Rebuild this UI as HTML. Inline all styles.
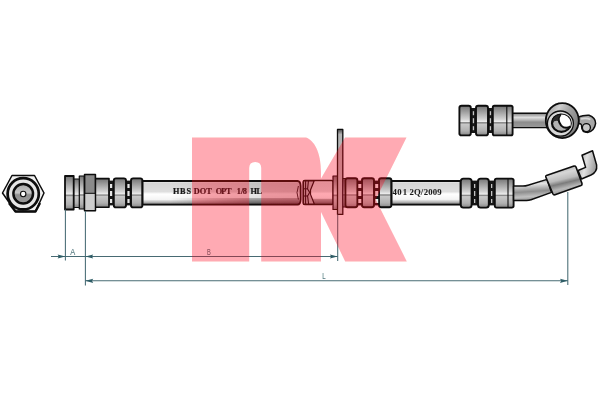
<!DOCTYPE html>
<html><head><meta charset="utf-8"><title>Brake hose</title>
<style>
html,body{margin:0;padding:0;background:#fff;}
body{width:600px;height:400px;overflow:hidden;font-family:"Liberation Sans",sans-serif;}
svg{display:block}
</style></head><body>
<svg width="600" height="400" viewBox="0 0 600 400">
<defs>
<linearGradient id="metal" x1="0" y1="0" x2="0" y2="1">
<stop offset="0" stop-color="#747474"/><stop offset="0.16" stop-color="#969696"/><stop offset="0.45" stop-color="#d2d2d2"/><stop offset="0.54" stop-color="#eeeeee"/><stop offset="0.57" stop-color="#747474"/><stop offset="0.62" stop-color="#c8c8c8"/><stop offset="0.85" stop-color="#b0b0b0"/><stop offset="1" stop-color="#868686"/>
</linearGradient>
<linearGradient id="hose" x1="0" y1="0" x2="0" y2="1">
<stop offset="0" stop-color="#f0f0f0"/><stop offset="0.1" stop-color="#d6d6d6"/><stop offset="0.45" stop-color="#dedede"/><stop offset="0.55" stop-color="#ffffff"/><stop offset="0.78" stop-color="#f4f4f4"/><stop offset="0.9" stop-color="#b4b4b4"/><stop offset="1" stop-color="#666"/>
</linearGradient>
<linearGradient id="pipe" x1="0" y1="0" x2="0" y2="1">
<stop offset="0" stop-color="#808080"/><stop offset="0.3" stop-color="#dedede"/><stop offset="0.5" stop-color="#b0b0b0"/><stop offset="0.62" stop-color="#8c8c8c"/><stop offset="1" stop-color="#9a9a9a"/>
</linearGradient>
<linearGradient id="sleeve" x1="0" y1="0" x2="0.3" y2="1">
<stop offset="0" stop-color="#8c8c8c"/><stop offset="0.35" stop-color="#d6d6d6"/><stop offset="0.55" stop-color="#bcbcbc"/><stop offset="0.68" stop-color="#7c7c7c"/><stop offset="0.85" stop-color="#b8b8b8"/><stop offset="1" stop-color="#9a9a9a"/>
</linearGradient>
<linearGradient id="tip" x1="0" y1="0" x2="1" y2="0.3">
<stop offset="0" stop-color="#9a9a9a"/><stop offset="0.5" stop-color="#e2e2e2"/><stop offset="1" stop-color="#a0a0a0"/>
</linearGradient>
<linearGradient id="banjo" x1="0" y1="0" x2="1" y2="0.6"><stop offset="0" stop-color="#8a8a8a"/><stop offset="0.35" stop-color="#cfcfcf"/><stop offset="0.6" stop-color="#a4a4a4"/><stop offset="1" stop-color="#7e7e7e"/></linearGradient>
<linearGradient id="disc" x1="0" y1="0" x2="0" y2="1"><stop offset="0" stop-color="#a8a8a8"/><stop offset="0.45" stop-color="#c6c6c6"/><stop offset="0.55" stop-color="#8e8e8e"/><stop offset="1" stop-color="#9c9c9c"/></linearGradient>
<linearGradient id="pipe2" x1="0" y1="0" x2="0.12" y2="1"><stop offset="0" stop-color="#8a8a8a"/><stop offset="0.28" stop-color="#e4e4e4"/><stop offset="0.48" stop-color="#b0b0b0"/><stop offset="0.62" stop-color="#8e8e8e"/><stop offset="0.85" stop-color="#c0c0c0"/><stop offset="1" stop-color="#999"/></linearGradient>
<linearGradient id="hshade" x1="0" y1="0" x2="1" y2="0"><stop offset="0" stop-color="#000" stop-opacity="0"/><stop offset="0.7" stop-color="#000" stop-opacity="0.1"/><stop offset="1" stop-color="#000" stop-opacity="0.12"/></linearGradient>
<linearGradient id="hshade2" x1="0" y1="0" x2="1" y2="0"><stop offset="0" stop-color="#000" stop-opacity="0"/><stop offset="0.6" stop-color="#000" stop-opacity="0.3"/><stop offset="1" stop-color="#000" stop-opacity="0.34"/></linearGradient>
<linearGradient id="plate" x1="0" y1="0" x2="0" y2="1">
<stop offset="0" stop-color="#4a4a4a"/><stop offset="0.06" stop-color="#b4b4b4"/><stop offset="1" stop-color="#c6c6c6"/>
</linearGradient>
<filter id="soft" x="0" y="0" width="600" height="400" filterUnits="userSpaceOnUse"><feGaussianBlur stdDeviation="0.4"/></filter>
</defs>
<rect width="600" height="400" fill="#fff"/>
<g filter="url(#soft)">
<g stroke="#0d0d0d" stroke-width="1.6" stroke-linejoin="round">
<!-- hex end view -->
<polygon points="2.5,193 12,175.5 34.5,175.5 44,193 35.5,211.5 15.5,211.5" fill="#f2f2f2" stroke-width="1.5"/>
<path d="M9,203 L15.5,211.5 H35.5 L40,203" fill="none" stroke-width="2.4"/>
<circle cx="23.2" cy="193.8" r="15.6" fill="#e6e6e6" stroke-width="2.7"/>
<circle cx="23.2" cy="193.8" r="9.8" fill="url(#disc)" stroke-width="2.5"/>
<circle cx="23.2" cy="194" r="2.7" fill="#fff" stroke-width="1.1"/>

<!-- left fitting -->
<rect x="73" y="179" width="7" height="28.5" fill="url(#metal)" stroke-width="1.1"/>
<rect x="65" y="176" width="8.7" height="33.5" fill="url(#metal)" stroke-width="1.8"/>
<rect x="79.3" y="176" width="5" height="33" fill="url(#metal)" stroke-width="1.2"/>
<rect x="95" y="178.6" width="14" height="28.6" fill="url(#metal)"/>
<rect x="84.6" y="174.5" width="10.8" height="36.3" fill="#8a8a8a"/>
<rect x="85.4" y="193.5" width="9.2" height="16.5" fill="#cdcdcd" stroke="none"/>
<line x1="84.6" y1="193.3" x2="95.4" y2="193.3" stroke-width="1"/>
<rect x="108.5" y="180.6" width="23" height="24.8" fill="#161616" stroke="none"/>
<rect x="113.8" y="178.4" width="12.2" height="29" rx="2.2" fill="url(#metal)" stroke-width="1.9"/>
<rect x="131" y="178.4" width="11.4" height="29" rx="2.2" fill="url(#metal)" stroke-width="1.9"/>
<g stroke="none" fill="#e6e6e6"><rect x="110.0" y="184.0" width="2.2" height="4.0"/><rect x="110.0" y="191.0" width="2.2" height="5.0"/><rect x="110.0" y="199.0" width="2.2" height="4.0"/><rect x="127.4" y="184.0" width="2.2" height="4.0"/><rect x="127.4" y="191.0" width="2.2" height="5.0"/><rect x="127.4" y="199.0" width="2.2" height="4.0"/></g>

<!-- hose left -->
<path d="M142.6,181 H297.5 Q300.5,181.2 300.6,186 V199.4 Q300.5,204.4 297.5,204.7 H142.6 Z" fill="url(#hose)" stroke-width="1.8"/>
<rect x="170" y="181.8" width="129.5" height="22" fill="url(#hshade)" stroke="none"/>
<rect x="170" y="198.2" width="129.5" height="5.8" fill="url(#hshade2)" stroke="none"/>
<path d="M298.4,186 Q295.6,192.5 298.4,199.5" fill="none" stroke-width="0.9"/>

<!-- middle fitting -->
<rect x="303.2" y="180.4" width="30" height="24.2" rx="1.6" fill="url(#hose)" stroke-width="1.5"/>
<rect x="313" y="198.8" width="19.6" height="5.2" fill="#000" fill-opacity="0.3" stroke="none"/>
<path d="M303.5,181 h10.6 l-3.6,9 v4.4 l3.8,9.6 h-10.8 z" fill="#b8b8b8" stroke-width="1.2"/>
<path d="M305.6,181 V204 M308.4,181 L307.6,189 L309.6,192.4 L307.6,196 L308.6,204" fill="none" stroke-width="1.1"/>
<path d="M303.5,188.8 H308 M303.5,196 H308" fill="none" stroke-width="1"/>
<rect x="333" y="176" width="5" height="33.5" fill="url(#metal)" stroke-width="1.2"/>
<rect x="342" y="178.5" width="4" height="28.5" fill="url(#metal)" stroke-width="1"/>
<rect x="337.5" y="129.4" width="5.3" height="85" fill="url(#plate)" stroke-width="1.3"/>
<rect x="356" y="180.6" width="24" height="24.8" fill="#161616" stroke="none"/>
<rect x="345.4" y="178.3" width="12" height="29" rx="2.2" fill="url(#metal)" stroke-width="1.9"/>
<rect x="362" y="178.3" width="12" height="29" rx="2.2" fill="url(#metal)" stroke-width="1.9"/>
<rect x="379" y="178.3" width="12.4" height="29" rx="2.2" fill="url(#metal)" stroke-width="1.9"/>
<g stroke="none" fill="#f0f0f0"><rect x="358.3" y="184.0" width="3.0" height="4.0"/><rect x="358.3" y="191.0" width="3.0" height="5.0"/><rect x="358.3" y="199.0" width="3.0" height="4.0"/><rect x="375.2" y="184.0" width="3.0" height="4.0"/><rect x="375.2" y="191.0" width="3.0" height="5.0"/><rect x="375.2" y="199.0" width="3.0" height="4.0"/></g>

<!-- hose right -->
<rect x="391.6" y="181" width="69" height="23.6" fill="url(#hose)" stroke-width="1.8"/>

<!-- right fitting -->
<rect x="471" y="180.6" width="24" height="24.8" fill="#161616" stroke="none"/>
<rect x="460.8" y="178.6" width="10.8" height="29" rx="2.6" fill="url(#metal)" stroke-width="1.9"/>
<rect x="478" y="178.6" width="10.8" height="29" rx="2.6" fill="url(#metal)" stroke-width="1.9"/>
<rect x="494.8" y="178.6" width="18.8" height="29" rx="1.8" fill="url(#metal)" stroke-width="1.9"/>
<line x1="508" y1="179" x2="508" y2="207.4" stroke-width="1.1"/>
<g stroke="none" fill="#c4c4c4"><rect x="474.0" y="184.0" width="1.3" height="4.0"/><rect x="474.0" y="191.0" width="1.3" height="5.0"/><rect x="474.0" y="199.0" width="1.3" height="4.0"/><rect x="491.0" y="184.0" width="1.3" height="4.0"/><rect x="491.0" y="191.0" width="1.3" height="5.0"/><rect x="491.0" y="199.0" width="1.3" height="4.0"/></g>
<!-- bent pipe -->
<path d="M513.6,186 H523 Q525.5,186 528,185.2 L547,179.4 L551.5,192.4 L531,199.8 Q529,200.5 526.5,200.5 H513.6 Z" fill="url(#pipe2)" stroke-width="1.5"/>
<path d="M578,170.5 L585.6,167.4 L582,155.2 L592.5,150.8 L596.6,165 Q597.5,172 591,175 L581.5,179 Z" fill="url(#tip)" stroke-width="1.5"/>
<path d="M546.4,175.4 L574,166 Q575.4,165.8 576,167 L582,183.6 Q582.4,185 581,185.6 L555,194.8 Q553.6,195.2 553,194 L545.8,177 Q545.4,175.8 546.4,175.4 Z" fill="url(#sleeve)" stroke-width="1.6"/>

<!-- top right fitting -->
<rect x="470" y="108" width="24" height="25" fill="#161616" stroke="none"/>
<rect x="459.4" y="105.8" width="11.4" height="29.6" rx="2.2" fill="url(#metal)" stroke-width="1.9"/>
<rect x="476" y="105.8" width="12" height="29.6" rx="2.2" fill="url(#metal)" stroke-width="1.9"/>
<rect x="492.8" y="105.8" width="19.8" height="29.6" rx="1.6" fill="url(#metal)" stroke-width="1.9"/>
<line x1="506.8" y1="106" x2="506.8" y2="135.2" stroke-width="1.1"/>
<g stroke="none" fill="#c4c4c4"><rect x="472.8" y="111.2" width="1.3" height="4.0"/><rect x="472.8" y="118.2" width="1.3" height="5.0"/><rect x="472.8" y="126.2" width="1.3" height="4.0"/><rect x="489.8" y="111.2" width="1.3" height="4.0"/><rect x="489.8" y="118.2" width="1.3" height="5.0"/><rect x="489.8" y="126.2" width="1.3" height="4.0"/></g>
<rect x="512.8" y="113.2" width="35" height="14.4" fill="url(#pipe)" stroke-width="1.4"/>
<!-- hook -->
<path d="M578.4,117 Q583,115 589,115.2 Q595.6,117.4 595.6,123.4 Q594.6,130.6 588,132.4 Q581.6,132.4 581.6,126.4 Q582,123.6 578.6,123.4 Z" fill="#a8a8a8" stroke-width="1.5"/>
<path d="M581,119 Q586,117.6 590.4,119.6" fill="none" stroke="#d8d8d8" stroke-width="1.6"/>
<circle cx="586.4" cy="127.6" r="4" fill="#c8c8c8" stroke-width="1.3"/>
<!-- banjo -->
<ellipse cx="562.3" cy="120.6" rx="16.5" ry="17.5" fill="url(#banjo)" stroke-width="1.8"/>
<ellipse cx="560.4" cy="123.6" rx="13" ry="12.6" fill="#d8d8d8" stroke-width="1.3"/>
<ellipse cx="561.4" cy="123.2" rx="9.4" ry="8.6" fill="#b2b2b2" stroke-width="2.2"/>
<path d="M552.4,121 Q553.5,115.6 560.5,114.8 Q556.5,119.5 561,125.5 Q565,129.6 570.4,126.6 Q571,124.5 570.7,122 Q569,115 561,114.6 Q553.6,115.4 552.4,121 Z" fill="#fff" stroke="none"/>
<path d="M552.2,122.6 Q552.8,115.6 560.4,114.7 Q556.6,119.8 561.2,125.6 Q565.4,129.6 570.6,126.4" fill="none" stroke-width="2"/>
<path d="M552.3,122.6 Q552.8,115.6 560.2,114.8 Q557.6,118 558.2,121 Q555,120 552.3,122.6 Z" fill="#2a2a2a" stroke="none"/>
</g>

<!-- hose text -->
<g transform="translate(0,194.40) scale(0.920,1)"><text text-anchor="middle" font-family="Liberation Serif, serif" font-weight="bold" font-size="9.00" fill="#151515" stroke="#151515" stroke-width="0.22" x="191.63 198.59 205.11 213.75 220.54 227.17 237.99 243.21 248.64 259.62 263.10 266.14 275.87 281.74" y="0">HBSDOTOPT1/8HL</text></g>
<g transform="translate(0,195.40) scale(0.980,1)"><text text-anchor="middle" font-family="Liberation Serif, serif" font-weight="bold" font-size="8.90" fill="#1c1c1c" stroke="#1c1c1c" stroke-width="0.05" x="402.83 407.65 413.32 420.20 426.02 430.61 434.59 439.18 443.77 448.36" y="0">4012Q/2009</text></g>

<!-- dimension lines -->
<g stroke="#466b73" stroke-width="1.05" fill="none">
<line x1="65.4" y1="209.5" x2="65.4" y2="260.6"/>
<line x1="85.4" y1="211" x2="85.4" y2="285.6"/>
<line x1="337.7" y1="214.5" x2="337.7" y2="261"/>
<line x1="567.8" y1="192" x2="567.8" y2="285"/>
<line x1="51" y1="256.5" x2="337.7" y2="256.5"/>
<line x1="85.4" y1="280.8" x2="567.8" y2="280.8"/>
</g>
<g fill="#2f5d66" stroke="none">
<polygon points="65.4,256.5 57.6,254.4 58.8,256.5 57.6,258.6"/>
<polygon points="85.4,256.5 93.2,254.4 92,256.5 93.2,258.6"/>
<polygon points="337.7,256.5 329.9,254.4 331.1,256.5 329.9,258.6"/>
<polygon points="85.4,280.8 93.2,278.7 92,280.8 93.2,282.9"/>
<polygon points="567.8,280.8 560,278.7 561.2,280.8 560,282.9"/>
</g>
<g font-family="Liberation Sans, sans-serif" font-size="9.9" fill="#54797f" stroke="#54797f" stroke-width="0.1">
<text x="70.2" y="254.5" textLength="5" lengthAdjust="spacingAndGlyphs">A</text>
<text x="206.9" y="254.7" textLength="3.8" lengthAdjust="spacingAndGlyphs">B</text>
<text x="322.2" y="279.3" textLength="3.4" lengthAdjust="spacingAndGlyphs">L</text>
</g>

<!-- logo overlay -->
<g fill="#ff0018" fill-opacity="0.335" stroke="none">
<path d="M192,137.4 H306 C314,140 321,152 321,172 V261.4 H261.2 V168 Q261.2,162 255.2,162 Q249.2,162 249.2,168 V261.4 H192 Z"/>
<path d="M345,137.4 H406.5 L375.7,199.4 L406.8,261.4 H345.2 L321,212 V178.4 Z"/>
</g>
</g>
</svg>
</body></html>
